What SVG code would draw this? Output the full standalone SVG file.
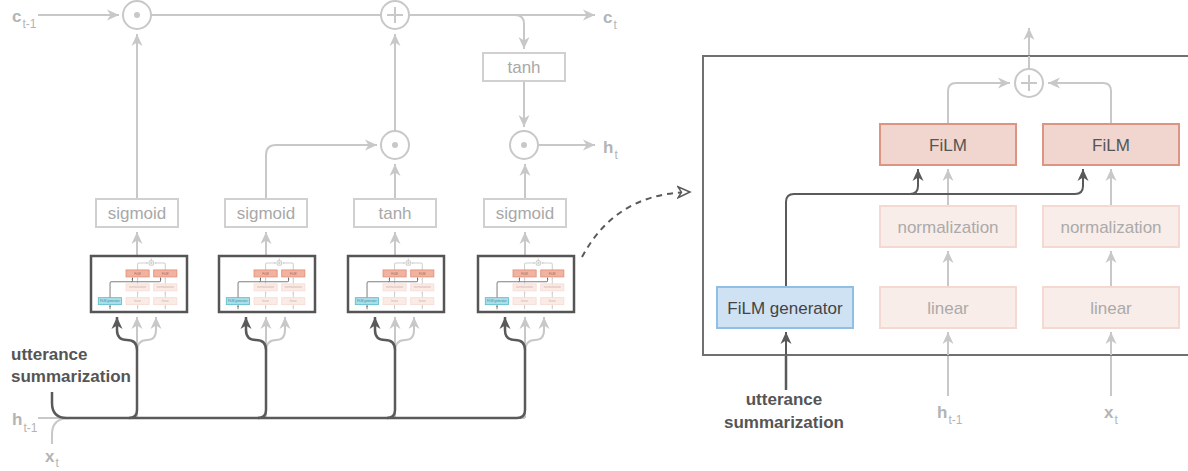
<svg xmlns="http://www.w3.org/2000/svg" xmlns:xlink="http://www.w3.org/1999/xlink" width="1188" height="471" viewBox="0 0 1188 471">
  <defs>
    <style>
      text{font-family:"Liberation Sans",Arial,sans-serif}
      .conn{fill:none;stroke:#c8c8c8;stroke-width:2}
      .conn.dark{stroke:#5a5a5a;stroke-width:2.5}
      .conn.dash{stroke:#5a5a5a;stroke-width:2;stroke-dasharray:6 5}
      .op{fill:#fff;stroke:#c8c8c8;stroke-width:2}
      .op-sign{fill:none;stroke:#c8c8c8;stroke-width:2}
      .op-dot{fill:#c8c8c8}
      .gate rect{fill:#fff;stroke:#d0d0d0;stroke-width:2}
      .gate text{font-size:17px;fill:#a8a8a8;text-anchor:middle}
      .var{font-size:17px;font-weight:bold;fill:#b4b4b4}
      .var .sub{font-size:12px;font-weight:normal;fill:#b4b4b4}
      .note{font-size:17px;font-weight:bold;fill:#555}
      .thumb{fill:#fff;stroke:#555;stroke-width:2.5}
      .frame{fill:#fff;stroke:#707070;stroke-width:2}
      /* FiLM block, styled through custom properties so the same cell can be reused small */
      .big{--gray:#c8c8c8;--dark:#5a5a5a;--lw:2;--bw:2;
           --film-fill:#f0d6ce;--film-stroke:#dc9582;--film-text:#555;
           --soft-fill:#f9ede9;--soft-stroke:#f3d9d1;--soft-text:#aaa;
           --gen-fill:#cfe2f3;--gen-stroke:#8fbfe4;--gen-text:#444}
      .mini{--gray:#cfcfcf;--dark:#808080;--lw:6;--bw:5;
           --film-fill:#f1b3a0;--film-stroke:#e08e78;--film-text:#a0604f;
           --soft-fill:#fbebe6;--soft-stroke:#f6dcd4;--soft-text:#d0b0a8;
           --gen-fill:#a9dfe9;--gen-stroke:#5fbccc;--gen-text:#3d8b99}
      .cw{fill:none;stroke:var(--gray);stroke-width:var(--lw)}
      .cw.dk{stroke:var(--dark)}
      .cop{fill:#fff;stroke:var(--gray);stroke-width:var(--lw)}
      .film rect{fill:var(--film-fill);stroke:var(--film-stroke);stroke-width:var(--bw)}
      .film text{fill:var(--film-text)}
      .soft rect{fill:var(--soft-fill);stroke:var(--soft-stroke);stroke-width:var(--bw)}
      .soft text{fill:var(--soft-text)}
      .gen rect{fill:var(--gen-fill);stroke:var(--gen-stroke);stroke-width:var(--bw)}
      .gen text{fill:var(--gen-text)}
      .cell-node text{font-size:17px;text-anchor:middle}
    </style>
    <marker id="ah-gray" markerUnits="userSpaceOnUse" viewBox="0 0 12 12" markerWidth="12" markerHeight="12" refX="12" refY="6" orient="auto">
      <path d="M0,0.5 L12,6 L0,11.5 L3.5,6 z" fill="#c8c8c8"/>
    </marker>
    <marker id="ah-dark" markerUnits="userSpaceOnUse" viewBox="0 0 12 12" markerWidth="12" markerHeight="12" refX="12" refY="6" orient="auto">
      <path d="M0,0.5 L12,6 L0,11.5 L3.5,6 z" fill="#5a5a5a"/>
    </marker>
    <marker id="ah-open" markerUnits="userSpaceOnUse" viewBox="-1 -1 15 14" markerWidth="15" markerHeight="14" refX="12" refY="6" orient="auto">
      <path d="M0,0.5 L12,6 L0,11.5 L3.5,6 z" fill="#fff" stroke="#5a5a5a" stroke-width="1.5" stroke-linejoin="miter"/>
    </marker>
  </defs>

  <rect width="1188" height="471" fill="#fff"/>

  <!-- ===== connectors ===== -->
  <g id="connectors">
    <!-- cell state lane -->
    <path class="conn" d="M38,15 H119" marker-end="url(#ah-gray)"/>
    <path class="conn" d="M151,15 H381"/>
    <path class="conn" d="M409,15 H595" marker-end="url(#ah-gray)"/>
    <path class="conn" d="M515,15 Q524,15 524,24 V49" marker-end="url(#ah-gray)"/>
    <path class="conn" d="M524,81 V127" marker-end="url(#ah-gray)"/>
    <path class="conn" d="M538,145 H595" marker-end="url(#ah-gray)"/>
    <!-- gates to operators -->
    <path class="conn" d="M137,199 V34" marker-end="url(#ah-gray)"/>
    <path class="conn" d="M266,199 V155 Q266,145 276,145 H377" marker-end="url(#ah-gray)"/>
    <path class="conn" d="M395,199 V164" marker-end="url(#ah-gray)"/>
    <path class="conn" d="M395,131 V34" marker-end="url(#ah-gray)"/>
    <path class="conn" d="M525,199 V164" marker-end="url(#ah-gray)"/>
    <!-- FiLM cells to gates -->
    <path class="conn" d="M137,255 V232" marker-end="url(#ah-gray)"/>
    <path class="conn" d="M266,255 V232" marker-end="url(#ah-gray)"/>
    <path class="conn" d="M395,255 V232" marker-end="url(#ah-gray)"/>
    <path class="conn" d="M525,255 V232" marker-end="url(#ah-gray)"/>

    <!-- h(t-1) and x(t) inputs -->
    <path class="conn" d="M38,418 H525"/>
    <path class="conn" d="M52,444 V434 Q52,418 70,418"/>
    <g id="inputs-gray">
      <path class="conn" d="M137,418 V317" marker-end="url(#ah-gray)"/>
      <path class="conn" d="M137,352 Q137,340 147,340 Q156,340 156,330 V317" marker-end="url(#ah-gray)"/>
      <path class="conn" d="M266,418 V317" marker-end="url(#ah-gray)"/>
      <path class="conn" d="M266,352 Q266,340 276,340 Q285,340 285,330 V317" marker-end="url(#ah-gray)"/>
      <path class="conn" d="M395,418 V317" marker-end="url(#ah-gray)"/>
      <path class="conn" d="M395,352 Q395,340 405,340 Q414,340 414,330 V317" marker-end="url(#ah-gray)"/>
      <path class="conn" d="M525,418 V317" marker-end="url(#ah-gray)"/>
      <path class="conn" d="M525,352 Q525,340 535,340 Q544,340 544,330 V317" marker-end="url(#ah-gray)"/>
    </g>
    <!-- utterance summarization feed -->
    <g id="summary-feed">
      <path class="conn dark" d="M52,392 V403 Q52,418 67,418 H517 Q525,418 525,410"/>
      <path class="conn dark" d="M129,418 Q137,418 137,410 V350 Q137,340 127,340 Q117,340 117,330 V317" marker-end="url(#ah-dark)"/>
      <path class="conn dark" d="M258,418 Q266,418 266,410 V350 Q266,340 256,340 Q246,340 246,330 V317" marker-end="url(#ah-dark)"/>
      <path class="conn dark" d="M387,418 Q395,418 395,410 V350 Q395,340 385,340 Q375,340 375,330 V317" marker-end="url(#ah-dark)"/>
      <path class="conn dark" d="M525,410 V350 Q525,340 515,340 Q505,340 505,330 V317" marker-end="url(#ah-dark)"/>
    </g>

    <!-- zoom-in pointer -->
    <path class="conn dash" d="M582,257 C603,218 636,193 690,192" marker-end="url(#ah-open)"/>

    <!-- FiLM block external wiring -->
    <path class="conn" d="M1029,57 V28" marker-end="url(#ah-gray)"/>
    <path class="conn" d="M948,396 V356"/>
    <path class="conn" d="M1111,396 V356"/>
    <path class="conn dark" d="M786,390 V356"/>
  </g>

  <!-- ===== LSTM cell nodes ===== -->
  <g id="op-forget"><circle class="op" cx="137" cy="15" r="14"/><circle class="op-dot" cx="137" cy="15" r="3"/></g>
  <g id="op-add-cell"><circle class="op" cx="395" cy="15" r="14"/><path class="op-sign" d="M387,15 H403 M395,7 V23"/></g>
  <g id="op-input"><circle class="op" cx="395" cy="145" r="14"/><circle class="op-dot" cx="395" cy="145" r="3"/></g>
  <g id="op-output"><circle class="op" cx="524" cy="145" r="14"/><circle class="op-dot" cx="524" cy="145" r="3"/></g>

  <g id="gate-tanh-out" class="gate"><rect x="483" y="53" width="82" height="28"/><text x="524" y="73">tanh</text></g>
  <g id="gate-forget" class="gate"><rect x="96" y="199" width="82" height="28"/><text x="137" y="219">sigmoid</text></g>
  <g id="gate-input" class="gate"><rect x="225" y="199" width="82" height="28"/><text x="266" y="219">sigmoid</text></g>
  <g id="gate-candidate" class="gate"><rect x="354" y="199" width="82" height="28"/><text x="395" y="219">tanh</text></g>
  <g id="gate-output" class="gate"><rect x="484" y="199" width="82" height="28"/><text x="525" y="219">sigmoid</text></g>

  <!-- FiLM cells in miniature -->
  <g id="film-mini-1"><rect class="thumb" x="91" y="256" width="96" height="56"/>
    <use xlink:href="#film-cell" class="mini" transform="translate(91,256) scale(0.17) translate(-674,-42)"/></g>
  <g id="film-mini-2"><rect class="thumb" x="219" y="256" width="96" height="56"/>
    <use xlink:href="#film-cell" class="mini" transform="translate(219,256) scale(0.17) translate(-674,-42)"/></g>
  <g id="film-mini-3"><rect class="thumb" x="348" y="256" width="96" height="56"/>
    <use xlink:href="#film-cell" class="mini" transform="translate(348,256) scale(0.17) translate(-674,-42)"/></g>
  <g id="film-mini-4"><rect class="thumb" x="478" y="256" width="96" height="56"/>
    <use xlink:href="#film-cell" class="mini" transform="translate(478,256) scale(0.17) translate(-674,-42)"/></g>

  <!-- LSTM labels -->
  <g id="labels-lstm">
    <text class="var" x="12" y="22">c<tspan class="sub" dx="1" dy="6">t-1</tspan></text>
    <text class="var" x="603" y="23">c<tspan class="sub" dx="1" dy="6">t</tspan></text>
    <text class="var" x="603" y="153">h<tspan class="sub" dx="1" dy="6">t</tspan></text>
    <text class="var" x="12" y="425">h<tspan class="sub" dx="1" dy="7">t-1</tspan></text>
    <text class="var" x="45" y="462">x<tspan class="sub" dx="1" dy="5">t</tspan></text>
    <text class="note" x="11" y="360">utterance</text>
    <text class="note" x="11" y="382">summarization</text>
  </g>

  <!-- ===== FiLM block in detail ===== -->
  <g id="film-detail" class="big">
    <rect id="film-frame" class="frame" x="703" y="56" width="520" height="299"/>
    <g id="film-cell">
      <g id="film-wires">
        <path class="cw" d="M1029,69 V56"/>
        <path class="cw" d="M948,124 V91 Q948,83 956,83 H1010" marker-end="url(#ah-gray)"/>
        <path class="cw" d="M1111,124 V91 Q1111,83 1103,83 H1048" marker-end="url(#ah-gray)"/>
        <path class="cw" d="M948,206 V169" marker-end="url(#ah-gray)"/>
        <path class="cw" d="M1111,206 V169" marker-end="url(#ah-gray)"/>
        <path class="cw" d="M948,287 V251" marker-end="url(#ah-gray)"/>
        <path class="cw" d="M1111,287 V251" marker-end="url(#ah-gray)"/>
        <path class="cw" d="M948,355 V332" marker-end="url(#ah-gray)"/>
        <path class="cw" d="M1111,355 V332" marker-end="url(#ah-gray)"/>
        <path class="cw dk" d="M786,355 V332" marker-end="url(#ah-dark)"/>
        <path class="cw dk" d="M786,287 V202 Q786,194 794,194 H1075 Q1083,194 1083,186 V169" marker-end="url(#ah-dark)"/>
        <path class="cw dk" d="M910,194 Q918,194 918,186 V169" marker-end="url(#ah-dark)"/>
      </g>
      <g id="film-sum"><circle class="cop" cx="1029" cy="83" r="14"/><path class="cw" d="M1021,83 H1037 M1029,75 V91"/></g>
      <g id="film-1" class="cell-node film"><rect x="880" y="124" width="136" height="41"/><text x="948" y="151">FiLM</text></g>
      <g id="film-2" class="cell-node film"><rect x="1043" y="124" width="136" height="41"/><text x="1111" y="151">FiLM</text></g>
      <g id="norm-1" class="cell-node soft"><rect x="880" y="206" width="136" height="41"/><text x="948" y="233">normalization</text></g>
      <g id="norm-2" class="cell-node soft"><rect x="1043" y="206" width="136" height="41"/><text x="1111" y="233">normalization</text></g>
      <g id="linear-1" class="cell-node soft"><rect x="880" y="287" width="136" height="41"/><text x="948" y="314">linear</text></g>
      <g id="linear-2" class="cell-node soft"><rect x="1043" y="287" width="136" height="41"/><text x="1111" y="314">linear</text></g>
      <g id="film-generator" class="cell-node gen"><rect x="717" y="287" width="136" height="41"/><text x="785" y="314">FiLM generator</text></g>
    </g>
  </g>

  <!-- FiLM block labels -->
  <g id="labels-film">
    <text class="note" x="784" y="405" text-anchor="middle">utterance</text>
    <text class="note" x="784" y="428" text-anchor="middle">summarization</text>
    <text class="var" x="937" y="418">h<tspan class="sub" dx="1" dy="6">t-1</tspan></text>
    <text class="var" x="1104" y="418">x<tspan class="sub" dx="1" dy="6">t</tspan></text>
  </g>
</svg>
